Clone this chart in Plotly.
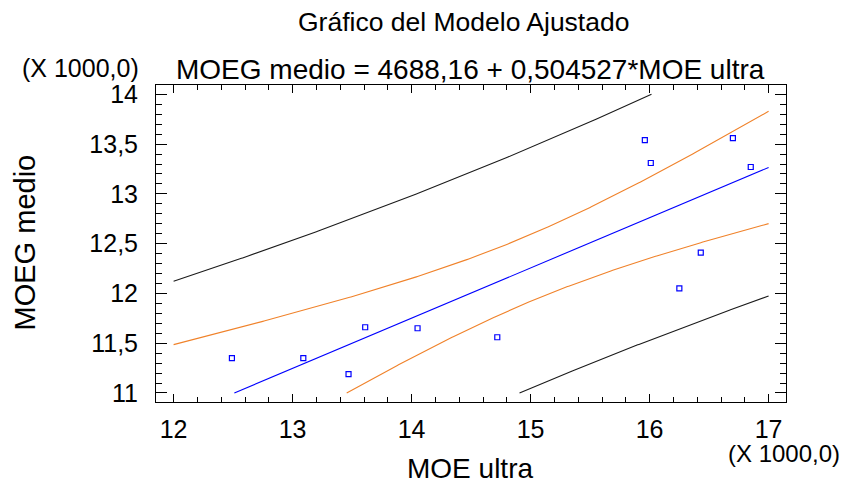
import numpy as np
import plotly.graph_objects as go

# Observed data (raw units)
moe_ultra = [12490, 13090, 13470, 13610, 14050, 14720, 15960, 16010, 16250, 16430, 16700, 16850]
moeg_medio = [11350, 11350, 11190, 11660, 11650, 11560, 13540, 13310, 12050, 12410, 13560, 13270]

# Fitted model: MOEG medio = b0 + b1 * MOE ultra
b0 = 4688.16
b1 = 0.504527
t_crit = 2.228  # t(0.975, n-2) with n = 12

x_ticks = [12, 13, 14, 15, 16, 17]
y_ticks = [11, 11.5, 12, 12.5, 13, 13.5, 14]
y_tick_text = ["11", "11,5", "12", "12,5", "13", "13,5", "14"]

SCALE = 1000.0
X_LO, X_HI = 12, 17
Y_LO, Y_HI = 11, 14

x = np.array(moe_ultra, dtype=float)
y = np.array(moeg_medio, dtype=float)
n = len(x)
resid = y - (b0 + b1 * x)
s = np.sqrt(np.sum(resid ** 2) / (n - 2))
xbar = x.mean()
sxx = np.sum((x - xbar) ** 2)

grid = np.linspace(X_LO * SCALE, X_HI * SCALE, 501)
fit = b0 + b1 * grid
conf_w = t_crit * s * np.sqrt(1.0 / n + (grid - xbar) ** 2 / sxx)
pred_w = t_crit * s * np.sqrt(1.0 + 1.0 / n + (grid - xbar) ** 2 / sxx)


def clip_curve(gx, gy, lo, hi):
    """Keep the part of an increasing curve that lies within [lo, hi]."""
    gx = gx / SCALE
    gy = gy / SCALE
    mask = (gy >= lo) & (gy <= hi)
    cx = list(gx[mask])
    cy = list(gy[mask])
    if gy[0] < lo < gy[-1]:
        cx.insert(0, float(np.interp(lo, gy, gx)))
        cy.insert(0, lo)
    if gy[0] < hi < gy[-1]:
        cx.append(float(np.interp(hi, gy, gx)))
        cy.append(hi)
    return cx, cy


FONT = "Liberation Sans, Arial, sans-serif"
ORANGE = "#F0822A"
BLUE = "#0000FF"
DARK = "#1a1a1a"

fig = go.Figure()

curves = [
    (fit + pred_w, DARK),
    (fit - pred_w, DARK),
    (fit + conf_w, ORANGE),
    (fit - conf_w, ORANGE),
    (fit, BLUE),
]
for cy_raw, col in curves:
    cx, cy = clip_curve(grid, cy_raw, Y_LO, Y_HI)
    fig.add_trace(go.Scatter(x=cx, y=cy, mode="lines",
                             line=dict(color=col, width=1.1),
                             showlegend=False, hoverinfo="skip"))

fig.add_trace(go.Scatter(
    x=x / SCALE, y=y / SCALE, mode="markers",
    marker=dict(symbol="square-open", size=5, color=BLUE, line=dict(width=1.2, color=BLUE)),
    showlegend=False,
))

# Plot area geometry (pixels)
W, H = 842, 483
L, R, T, B = 155.7, 785.7, 85.0, 401.7

x_range = [X_LO - (173.3 - L) / 119.0, X_HI + (R - 768.3) / 119.0]
y_range = [Y_LO - (B - 392.7) / 99.3, Y_HI + (94.3 - T) / 99.3]

TICK_SIZE = 25

fig.update_xaxes(
    range=x_range, tickvals=x_ticks, ticktext=[str(v) for v in x_ticks],
    showline=True, linecolor="black", linewidth=1, mirror="allticks",
    ticks="inside", ticklen=8, tickcolor="black", tickwidth=1,
    minor=dict(dtick=0.2, tick0=12, ticks="inside", ticklen=5, tickcolor="black", tickwidth=1),
    showgrid=False, zeroline=False,
    tickfont=dict(family=FONT, size=TICK_SIZE, color="black"),
    ticklabelstandoff=5,
)
fig.update_yaxes(
    range=y_range, tickvals=y_ticks, ticktext=y_tick_text,
    showline=True, linecolor="black", linewidth=1, mirror="allticks",
    ticks="inside", ticklen=11, tickcolor="black", tickwidth=1,
    minor=dict(dtick=0.1, tick0=11, ticks="inside", ticklen=6, tickcolor="black", tickwidth=1),
    showgrid=False, zeroline=False,
    tickfont=dict(family=FONT, size=TICK_SIZE, color="black"),
    ticklabelstandoff=12,
)


def px_to_paper(px, py):
    return (px - L) / (R - L), (B - py) / (B - T)


def label(text, px, py, size, angle=0):
    xp, yp = px_to_paper(px, py)
    fig.add_annotation(text=text, x=xp, y=yp, xref="paper", yref="paper",
                       xanchor="center", yanchor="middle", showarrow=False,
                       textangle=angle, font=dict(family=FONT, size=size, color="black"))


label("Gráfico del Modelo Ajustado", 463, 22, 26.5)
label("MOEG medio = 4688,16 + 0,504527*MOE ultra", 470, 70, 28)
label("(X 1000,0)", 80, 68, 25)
label("(X 1000,0)", 784, 453, 24)
label("MOE ultra", 470, 468, 28)
label("MOEG medio", 25, 242, 29, angle=-90)

fig.update_layout(
    width=W, height=H,
    margin=dict(l=L, r=W - R, t=T, b=H - B, pad=0),
    plot_bgcolor="white", paper_bgcolor="white",
)

fig.write_html("out.html")
